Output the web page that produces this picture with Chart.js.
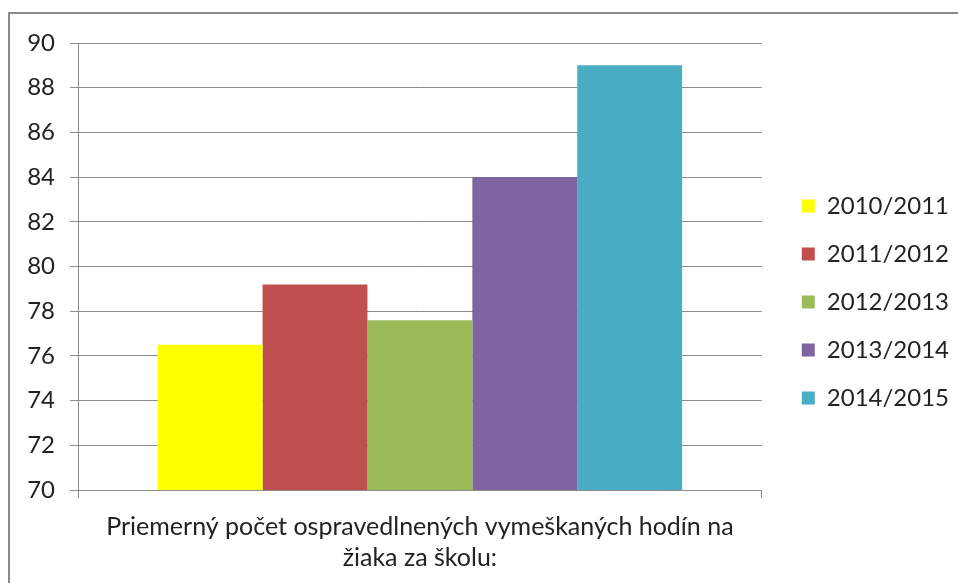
<!DOCTYPE html>
<html>
<head>
<meta charset="utf-8">
<script src="https://cdn.jsdelivr.net/npm/chart.js@4"></script>
<style>
  html, body { margin: 0; padding: 0; background: #fff; }
  #wrap { position: relative; width: 958px; height: 583px; overflow: hidden; }
  #frame {
    position: absolute; left: 8px; top: 12px; right: -4px; bottom: -4px;
    border-left: 2px solid #8a8a8a; border-top: 2px solid #8a8a8a;
  }
  canvas { position: absolute; left: 0; top: 0; }
</style>
</head>
<body>
<div id="wrap">
  <div id="frame"></div>
  <canvas id="chart" width="958" height="583"></canvas>
</div>
<script>
// Data
const categories = [['Priemerný počet ospravedlnených vymeškaných hodín na', 'žiaka za školu:']];
const seriesNames = ['2010/2011', '2011/2012', '2012/2013', '2013/2014', '2014/2015'];
const seriesValues = [76.5, 79.2, 77.6, 84.0, 89.0];
const seriesColors = ['#ffff00', '#c0504d', '#9bbb59', '#8064a2', '#4bacc6'];
const yMin = 70;
const yMax = 90;
const yStep = 2;

const FONT = 'Lato, "Open Sans", sans-serif';
const textColor = '#222';
const gridColor = '#8c8c8c';

// nudge the legend so it sits where the original has it
const legendShift = {
  id: 'legendShift',
  afterLayout(chart) {
    const lg = chart.legend;
    if (!lg) return;
    const dx = 16;
    const dy = -11;
    lg.left += dx; lg.right += dx;
    lg.top += dy; lg.bottom += dy;
  },
};

const datasets = seriesNames.map((name, i) => ({
  label: name,
  data: [seriesValues[i]],
  backgroundColor: seriesColors[i],
  borderWidth: 0,
  barPercentage: 1,
  categoryPercentage: 0.767,
}));

new Chart(document.getElementById('chart'), {
  type: 'bar',
  data: { labels: categories, datasets },
  plugins: [legendShift],
  options: {
    responsive: false,
    animation: false,
    layout: { padding: { left: 10, top: 43, right: 15, bottom: 0 } },
    scales: {
      x: {
        offset: true,
        grid: {
          offset: true,
          drawOnChartArea: false,
          drawTicks: true,
          tickLength: 8,
          color: gridColor,
        },
        border: { color: gridColor, width: 1 },
        ticks: {
          color: textColor,
          padding: 13,
          maxRotation: 0,
          font: { family: FONT, size: 25, lineHeight: 1.24 },
        },
        afterFit(scale) { scale.height = 93; },
      },
      y: {
        min: yMin,
        max: yMax,
        grid: { color: gridColor, tickLength: 8 },
        border: { color: gridColor, width: 1 },
        ticks: {
          stepSize: yStep,
          color: textColor,
          padding: 15,
          font: { family: FONT, size: 24 },
        },
        afterFit(scale) { scale.width = 68; },
      },
    },
    plugins: {
      legend: {
        position: 'right',
        labels: {
          color: textColor,
          boxWidth: 13,
          boxHeight: 13,
          padding: 24,
          font: { family: FONT, size: 24 },
        },
      },
      tooltip: { enabled: false },
    },
  },
});
</script>
</body>
</html>
